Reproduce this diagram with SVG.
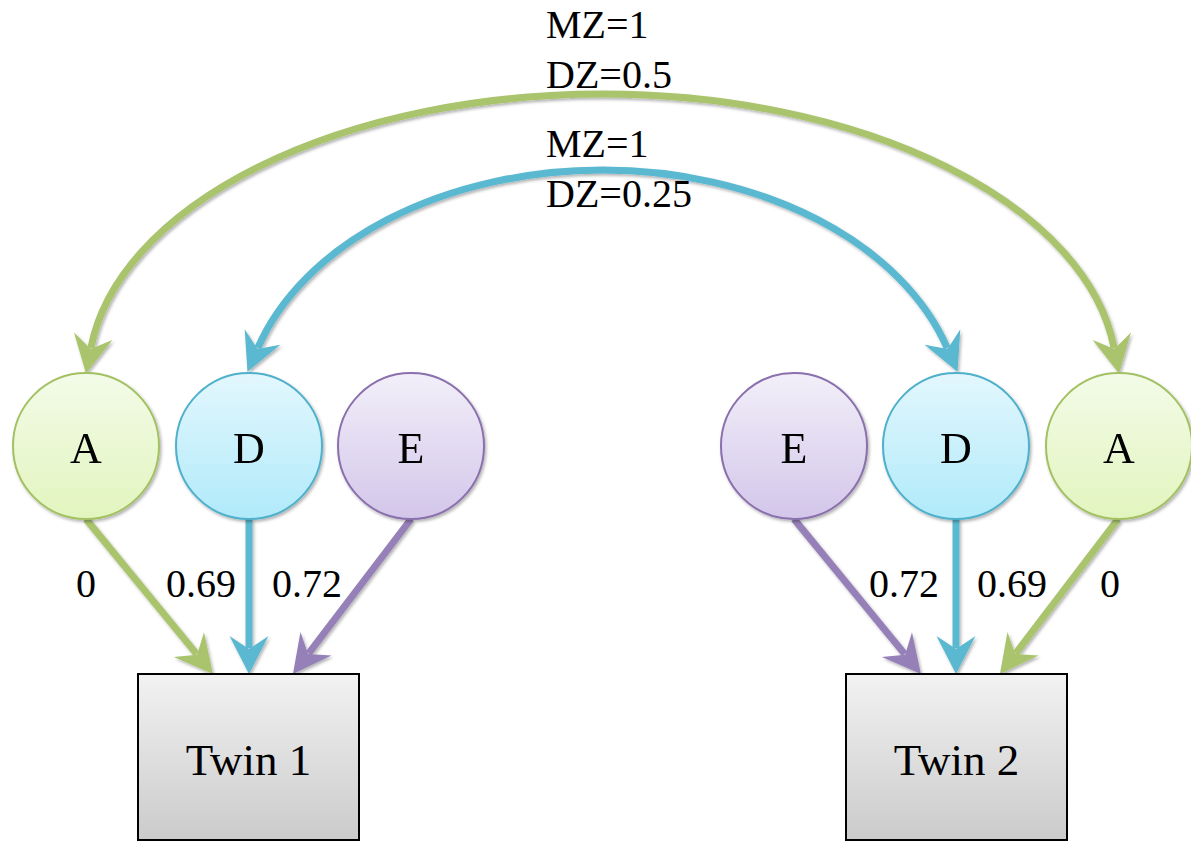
<svg xmlns="http://www.w3.org/2000/svg" width="1191" height="843" viewBox="0 0 1191 843">
  <defs>
    <style>
      .lbl { font-family: "Liberation Serif", "Times New Roman", serif; fill: #000; }
      .node-letter { font-size: 44px; text-anchor: middle; }
      .coef { font-size: 40px; }
      .corr { font-size: 40px; }
      .twin { font-size: 45px; text-anchor: middle; }
      .edge { fill: none; stroke-width: 7; stroke-linecap: butt; }
      .g { stroke: #a9c46c; }
      .b { stroke: #5ab8d1; }
      .p { stroke: #9680b8; }
      .box { stroke: #000; stroke-width: 2; fill: url(#boxFill); }
    </style>
    <linearGradient id="fillA" x1="0" y1="0" x2="0" y2="1">
      <stop offset="0" stop-color="#f3fbe8"/>
      <stop offset="1" stop-color="#e2f5be"/>
    </linearGradient>
    <linearGradient id="fillD" x1="0" y1="0" x2="0" y2="1">
      <stop offset="0" stop-color="#e3f7fd"/>
      <stop offset="1" stop-color="#b0eafa"/>
    </linearGradient>
    <linearGradient id="fillE" x1="0" y1="0" x2="0" y2="1">
      <stop offset="0" stop-color="#f2eff9"/>
      <stop offset="1" stop-color="#d3c6ea"/>
    </linearGradient>
    <linearGradient id="boxFill" x1="0" y1="0" x2="0" y2="1">
      <stop offset="0" stop-color="#f2f2f2"/>
      <stop offset="1" stop-color="#cbcbcb"/>
    </linearGradient>
    <filter id="shadow" x="-20%" y="-20%" width="140%" height="140%">
      <feDropShadow dx="1.5" dy="2" stdDeviation="1.8" flood-color="#000" flood-opacity="0.3"/>
    </filter>
    <!-- barbed arrowheads; the path stops 26px short of the tip -->
    <marker id="headG" markerUnits="userSpaceOnUse" markerWidth="60" markerHeight="60" refX="0" refY="0" orient="auto-start-reverse" overflow="visible">
      <path d="M26,0 L-12,-19.5 L1,0 L-12,19.5 Z" fill="#a9c46c"/>
    </marker>
    <marker id="headB" markerUnits="userSpaceOnUse" markerWidth="60" markerHeight="60" refX="0" refY="0" orient="auto-start-reverse" overflow="visible">
      <path d="M26,0 L-12,-19.5 L1,0 L-12,19.5 Z" fill="#5ab8d1"/>
    </marker>
    <marker id="headP" markerUnits="userSpaceOnUse" markerWidth="60" markerHeight="60" refX="0" refY="0" orient="auto-start-reverse" overflow="visible">
      <path d="M26,0 L-12,-19.5 L1,0 L-12,19.5 Z" fill="#9680b8"/>
    </marker>
  </defs>

  <rect width="1191" height="843" fill="#fff"/>

  <!-- connectors -->
  <g id="connectors" filter="url(#shadow)">
    <!-- shared-variance arcs between twins -->
    <path class="edge g" d="M90.9,348 A514.5 284 0 0 1 1114.1,348" marker-start="url(#headG)" marker-end="url(#headG)"/>
    <path class="edge b" d="M257.8,348 A360 250 0 0 1 947.2,348" marker-start="url(#headB)" marker-end="url(#headB)"/>
    <!-- paths into Twin 1 -->
    <path class="edge g" d="M86,519 L196.5,653.9" marker-end="url(#headG)"/>
    <path class="edge b" d="M249,519 L249,648" marker-end="url(#headB)"/>
    <path class="edge p" d="M411,519 L308.7,653.3" marker-end="url(#headP)"/>
    <!-- paths into Twin 2 -->
    <path class="edge p" d="M794,519 L904.5,653.9" marker-end="url(#headP)"/>
    <path class="edge b" d="M956,519 L956,648" marker-end="url(#headB)"/>
    <path class="edge g" d="M1118,519 L1015.7,653.3" marker-end="url(#headG)"/>
  </g>

  <!-- correlation labels -->
  <g id="corr-labels" class="lbl corr">
    <text x="546" y="38">MZ=1</text>
    <text x="546" y="88">DZ=0.5</text>
    <text x="546" y="157">MZ=1</text>
    <text x="546" y="207">DZ=0.25</text>
  </g>

  <!-- path coefficients -->
  <g id="coef-labels" class="lbl coef">
    <text x="86" y="597" text-anchor="middle">0</text>
    <text x="166" y="597">0.69</text>
    <text x="272" y="597">0.72</text>
    <text x="869" y="597">0.72</text>
    <text x="977" y="597">0.69</text>
    <text x="1110" y="597" text-anchor="middle">0</text>
  </g>

  <!-- twin 1 latent factors -->
  <g id="A1" filter="url(#shadow)">
    <circle cx="86" cy="446" r="73" fill="url(#fillA)" stroke="#a3c164" stroke-width="2"/>
    <text class="lbl node-letter" x="86" y="463">A</text>
  </g>
  <g id="D1" filter="url(#shadow)">
    <circle cx="249" cy="446" r="73" fill="url(#fillD)" stroke="#4fb0cb" stroke-width="2"/>
    <text class="lbl node-letter" x="249" y="463">D</text>
  </g>
  <g id="E1" filter="url(#shadow)">
    <circle cx="411" cy="446" r="73" fill="url(#fillE)" stroke="#8a70ad" stroke-width="2"/>
    <text class="lbl node-letter" x="411" y="463">E</text>
  </g>

  <!-- twin 2 latent factors -->
  <g id="E2" filter="url(#shadow)">
    <circle cx="794" cy="446" r="73" fill="url(#fillE)" stroke="#8a70ad" stroke-width="2"/>
    <text class="lbl node-letter" x="794" y="463">E</text>
  </g>
  <g id="D2" filter="url(#shadow)">
    <circle cx="956" cy="446" r="73" fill="url(#fillD)" stroke="#4fb0cb" stroke-width="2"/>
    <text class="lbl node-letter" x="956" y="463">D</text>
  </g>
  <g id="A2" filter="url(#shadow)">
    <circle cx="1119" cy="446" r="73" fill="url(#fillA)" stroke="#a3c164" stroke-width="2"/>
    <text class="lbl node-letter" x="1119" y="463">A</text>
  </g>

  <!-- observed phenotypes -->
  <g id="Twin1">
    <rect class="box" x="138" y="674" width="221" height="166"/>
    <text class="lbl twin" x="248.5" y="775">Twin 1</text>
  </g>
  <g id="Twin2">
    <rect class="box" x="846" y="674" width="221" height="166"/>
    <text class="lbl twin" x="956.5" y="775">Twin 2</text>
  </g>
</svg>
